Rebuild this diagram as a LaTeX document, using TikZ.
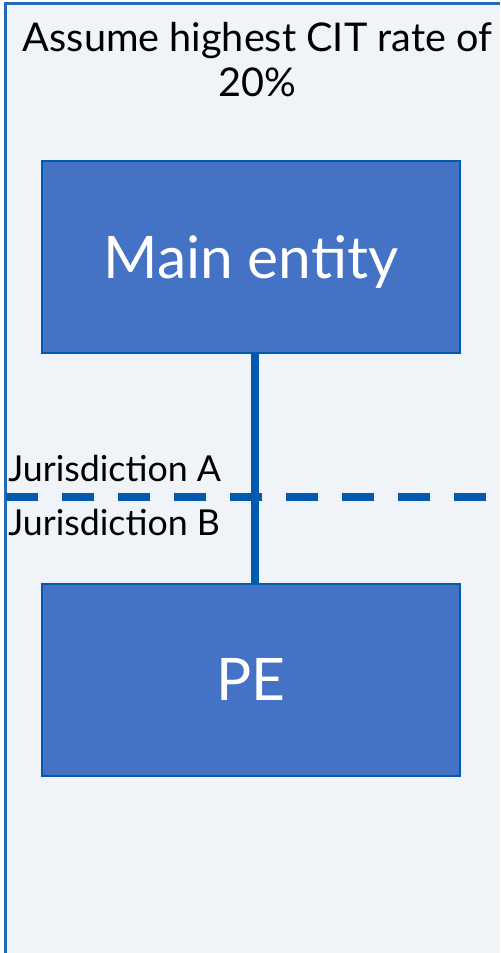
\documentclass[tikz,border=0pt]{standalone}
\usepackage{fontspec}
\setmainfont{Lato}
\usetikzlibrary{positioning}
\definecolor{panelbg}{HTML}{F0F4F9}
\definecolor{framecol}{HTML}{1F6BB7}
\definecolor{linkcol}{HTML}{005BAC}
\definecolor{boxfill}{HTML}{4472C4}
\tikzset{
  entity/.style={draw=linkcol, line width=1.5pt, fill=boxfill, text=white,
    minimum width=313.5pt, minimum height=144pt, inner sep=0pt, text depth=0pt,
    font=\fontsize{44}{48}\selectfont},
  jur/.style={anchor=base west, inner sep=0pt, font=\fontsize{26.8}{30}\selectfont},
}
\begin{document}
\begin{tikzpicture}[x=0.75pt, y=-0.75pt]
  \useasboundingbox (0,0) rectangle (500,953);
  % panel
  \fill[panelbg] (5.5,3.7) rectangle (500,953);
  \draw[framecol, line width=2pt] (5.5,953) -- (5.5,3.7) -- (500,3.7);
  \node[align=center, anchor=north, inner sep=0pt,
    font=\fontsize{29.7}{33.75}\selectfont] (note) at (257.5,22)
    {Assume highest CIT rate of\\20\%};
  % entities
  \node[entity] (main) at (251,257) {Main entity};
  \node[entity] (pe) at (251,679.5) {PE};
  \coordinate (borderA) at (5.5,497);
  \coordinate (borderB) at (500,497);
  \draw[linkcol, line width=5.5pt, dash pattern=on 24pt off 18pt] (borderA) -- (borderB);
  \draw[linkcol, line width=5.5pt] ([xshift=3pt]main.south) -- ([xshift=3pt]pe.north);
  \node[jur] (jurA) at (8,481) {Jurisdiction A};
  \node[jur] (jurB) at (8,535) {Jurisdiction B};
\end{tikzpicture}
\end{document}
